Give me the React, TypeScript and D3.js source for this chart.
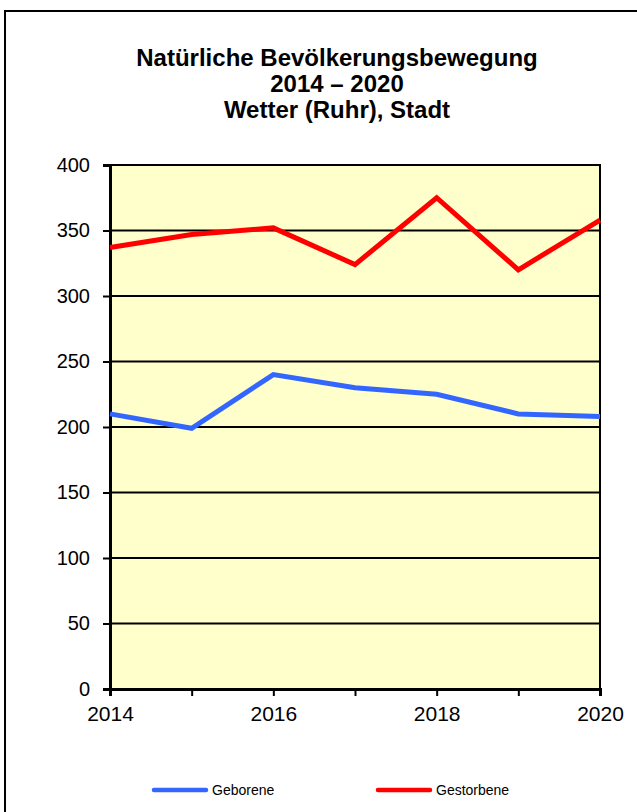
import React, { useEffect, useRef } from "react";
import * as d3 from "d3";

const years = [2014, 2015, 2016, 2017, 2018, 2019, 2020];
const geborene = [210, 199, 240, 230, 225, 210, 208];
const gestorbene = [337, 347, 352, 324, 375, 320, 358];
const yTicks = [0, 50, 100, 150, 200, 250, 300, 350, 400];
const xLabels = [2014, 2016, 2018, 2020];
const titleLines = ["Natürliche Bevölkerungsbewegung", "2014 – 2020", "Wetter (Ruhr), Stadt"];
const seriesNames = ["Geborene", "Gestorbene"];
const seriesColors = ["#3366ff", "#ff0000"];

export default function App() {
  const ref = useRef<SVGSVGElement | null>(null);

  useEffect(() => {
    if (!ref.current) return;
    const svg = d3.select(ref.current);
    svg.selectAll("*").remove();

    const font = "Arial, 'Liberation Sans', sans-serif";
    const left = 110, right = 600, top = 165, bottom = 689;

    // outer frame
    svg.append("rect")
      .attr("x", 5).attr("y", 11).attr("width", 640).attr("height", 820)
      .attr("fill", "#fff").attr("stroke", "#000").attr("stroke-width", 2);

    // title
    svg.append("g")
      .selectAll("text")
      .data(titleLines)
      .enter()
      .append("text")
      .attr("x", 337)
      .attr("y", (d, i) => 66 + i * 26)
      .attr("text-anchor", "middle")
      .attr("font-family", font)
      .attr("font-weight", "bold")
      .attr("font-size", 24)
      .text((d) => d);

    const x = d3.scaleLinear([2014, 2020], [left, right]);
    const y = d3.scaleLinear([0, 400], [bottom, top]);

    // plot background
    svg.append("rect")
      .attr("x", left).attr("y", top)
      .attr("width", right - left).attr("height", bottom - top)
      .attr("fill", "#ffffcc");

    // grid lines
    svg.append("g")
      .selectAll("line")
      .data(yTicks)
      .enter()
      .append("line")
      .attr("x1", left).attr("x2", right)
      .attr("y1", (d) => y(d)).attr("y2", (d) => y(d))
      .attr("stroke", "#000").attr("stroke-width", 2);

    // plot border
    svg.append("rect")
      .attr("x", left).attr("y", top)
      .attr("width", right - left).attr("height", bottom - top)
      .attr("fill", "none").attr("stroke", "#000").attr("stroke-width", 2);

    // y axis
    const yAxis = d3.axisLeft(y).tickValues(yTicks).tickSize(7).tickPadding(13);
    const gy = svg.append("g").attr("transform", `translate(${left},0)`).call(yAxis);
    gy.attr("font-family", font).attr("font-size", 20);
    gy.select(".domain").attr("stroke-width", 3);
    gy.selectAll(".tick line").attr("stroke-width", 2);
    gy.selectAll("text").attr("fill", "#000");

    // x axis
    const xAxis = d3.axisBottom(x).tickValues(years).tickSize(7).tickPadding(10)
      .tickFormat((d) => (xLabels.includes(+d) ? String(d) : ""));
    const gx = svg.append("g").attr("transform", `translate(0,${bottom})`).call(xAxis);
    gx.attr("font-family", font).attr("font-size", 21);
    gx.select(".domain").attr("stroke-width", 3);
    gx.selectAll(".tick line").attr("stroke-width", 2);
    gx.selectAll("text").attr("fill", "#000");

    // lines
    const line = d3.line<number>()
      .x((d, i) => x(years[i]))
      .y((d) => y(d));

    [geborene, gestorbene].forEach((s, i) => {
      svg.append("path")
        .datum(s)
        .attr("d", line)
        .attr("fill", "none")
        .attr("stroke", seriesColors[i])
        .attr("stroke-width", 5)
        .attr("stroke-linejoin", "miter");
    });

    // legend
    const legend = svg.append("g")
      .selectAll("g")
      .data(seriesNames)
      .enter()
      .append("g")
      .attr("transform", (d, i) => `translate(${154 + i * 224},790)`);
    legend.append("line")
      .attr("x1", 0).attr("x2", 52)
      .attr("stroke", (d, i) => seriesColors[i])
      .attr("stroke-width", 4.5)
      .attr("stroke-linecap", "round");
    legend.append("text")
      .attr("x", 58).attr("y", 5)
      .attr("font-family", font)
      .attr("font-size", 14)
      .text((d) => d);
  });

  return (
    <svg
      ref={ref}
      width={637}
      height={812}
      style={{ position: "absolute", left: 0, top: 0, display: "block" }}
    />
  );
}
